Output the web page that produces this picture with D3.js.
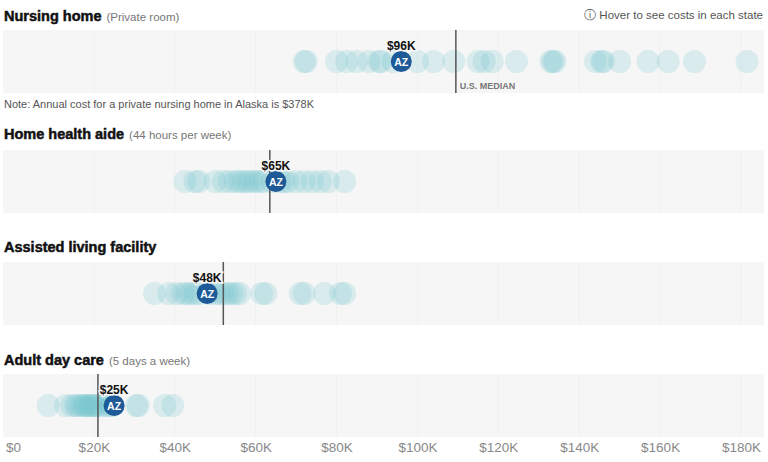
<!DOCTYPE html>
<html><head><meta charset="utf-8">
<script src="https://cdn.jsdelivr.net/npm/d3@7"></script>
<style>
body{margin:0;background:#fff;}
svg{display:block;font-family:"Liberation Sans",Arial,sans-serif;}
</style></head><body>
<svg id="chart" width="768" height="462"></svg>
<script>
const categories = ["Nursing home","Home health aide","Assisted living facility","Adult day care"];
const subtitles = ["(Private room)","(44 hours per week)","","(5 days a week)"];
// annual cost in $K, one entry per state (overlaps are stacked)
const nursingHome = [72,72.5,80,82.5,85,88,90.5,91,94,100,104,109,115,116.5,118.5,124.5,133,133.5,134,144,145.5,146,150,157,162,168.5,181.5];
const homeHealthAide = [42.5,45,46,50,52,53.5,55,56,57,58,59,60,61,62,64,66,67,68,70,72,74,76,78,82];
const assistedLiving = [35,38.5,40.5,42,43,44,45,46,48.5,50,51,52,53,54,55,56,61.5,62.5,71,72,77,81,82];
const adultDayCare = [8.7,13,14.5,15.5,16,17,17.5,18,18.5,19,19.5,20,20.5,21,22,23,24,24.5,30.5,31,37.5,39.5];
const medians = [109.5,63.5,52,21];
const azValues = [96,65,48,25];
const tickValues = [0,20,40,60,80,100,120,140,160,180];
const tickLabels = ["$0","$20K","$40K","$60K","$80K","$100K","$120K","$140K","$160K","$180K"];

const series = [nursingHome, homeHealthAide, assistedLiving, adultDayCare];
const svg = d3.select("#chart");
const x = d3.scaleLinear().domain([0,180]).range([13,741]);
const bandTops = [30,150,262,374];
const bandH = 63;
const titleY = [21,139,252,365];

svg.append("text").attr("x",763).attr("y",19).attr("text-anchor","end")
  .attr("font-size",11.5).attr("fill","#555").text("ⓘ Hover to see costs in each state");

categories.forEach((cat,i)=>{
  const g = svg.append("g");
  const t = g.append("text").attr("x",4).attr("y",titleY[i]);
  t.append("tspan").attr("font-size",14.5).attr("font-weight","bold").attr("fill","#111")
    .attr("stroke","#111").attr("stroke-width",0.5).text(cat);
  if (subtitles[i]) t.append("tspan").attr("dx",5).attr("font-size",11.5).attr("fill","#777").text(subtitles[i]);

  const top = bandTops[i], cy = top + bandH/2;
  g.append("rect").attr("x",3).attr("y",top).attr("width",761).attr("height",bandH).attr("fill","#f6f6f6");
  g.selectAll("line.grid").data(tickValues.slice(1)).join("line").attr("class","grid")
    .attr("x1",d=>x(d)).attr("x2",d=>x(d)).attr("y1",top).attr("y2",top+bandH)
    .attr("stroke","#f0f0f0").attr("stroke-width",1);

  g.selectAll("circle.st").data(series[i]).join("circle").attr("class","st")
    .attr("cx",d=>x(d)).attr("cy",cy).attr("r",11.5)
    .attr("fill","#72c3ce").attr("fill-opacity",0.22);

  g.append("line").attr("x1",x(medians[i])).attr("x2",x(medians[i]))
    .attr("y1",top).attr("y2",top+bandH).attr("stroke","#555").attr("stroke-width",1.5);
  if (i===0) g.append("text").attr("x",x(medians[i])+4).attr("y",top+59)
    .attr("font-size",9).attr("font-weight","bold").attr("fill","#777").text("U.S. MEDIAN");

  g.append("circle").attr("cx",x(azValues[i])).attr("cy",cy).attr("r",10.5).attr("fill","#1f5a98");
  g.append("text").attr("x",x(azValues[i])).attr("y",cy+4).attr("text-anchor","middle")
    .attr("font-size",10.5).attr("font-weight","bold").attr("fill","#fff").text("AZ");
  g.append("text").attr("x",x(azValues[i])).attr("y",cy-12).attr("text-anchor","middle")
    .attr("font-size",12).attr("font-weight","bold").attr("fill","#111")
    .attr("stroke","#f6f6f6").attr("stroke-width",3).attr("paint-order","stroke")
    .text("$"+azValues[i]+"K");
});

svg.append("text").attr("x",4).attr("y",108).attr("font-size",11).attr("fill","#555")
  .text("Note: Annual cost for a private nursing home in Alaska is $378K");

const axis = d3.axisBottom(x).tickValues(tickValues).tickFormat((d,i)=>tickLabels[i]).tickSize(0).tickPadding(0);
const ax = svg.append("g").attr("transform","translate(0,441)").call(axis);
ax.select(".domain").remove();
ax.selectAll("text").attr("font-size",13.5).attr("fill","#888").attr("font-family","Liberation Sans, Arial, sans-serif").attr("dy","0.85em");
</script>
</body></html>
